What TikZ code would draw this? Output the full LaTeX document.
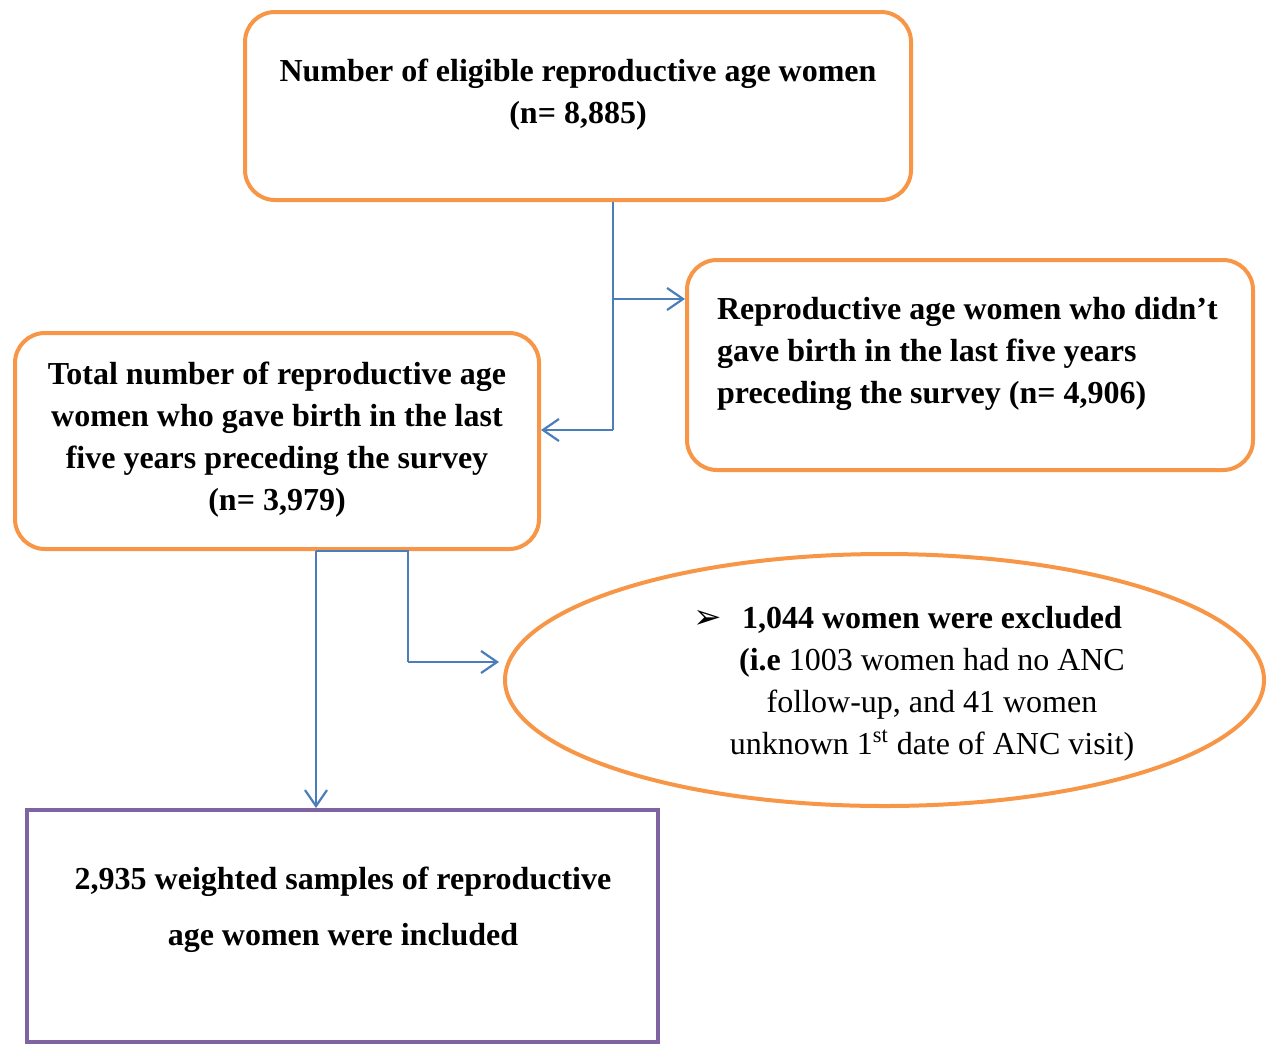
\documentclass[tikz,border=0pt]{standalone}
\usepackage{fontspec}
\setmainfont{Liberation Serif}
\newfontfamily\symfont{DejaVu Sans}
\usetikzlibrary{arrows.meta,shapes.geometric}
\definecolor{boxorange}{RGB}{247,150,70}
\definecolor{linkblue}{RGB}{74,126,187}
\definecolor{boxpurple}{RGB}{128,100,162}
\begin{document}
\begin{tikzpicture}[x=0.5pt, y=-0.5pt,
  roundbox/.style={draw=boxorange, line width=2pt, rounded corners=15pt, inner sep=0pt},
  link/.style={draw=linkblue, line width=1.1pt},
  linkarrow/.style={link, -{Straight Barb[length=8pt,width=11pt]}},
  boxtext/.style={font=\fontsize{16}{21}\selectfont\bfseries, align=center}]
  \useasboundingbox (0,0) rectangle (1273,1044);

  % eligible women
  \node[roundbox, minimum width=333pt, minimum height=94pt] (eligible) at (578,106) {};
  \node[boxtext] (eligibletext) at (578,95) {Number of eligible reproductive age women\\(n= 8,885)};

  % women without birth
  \node[roundbox, minimum width=283pt, minimum height=105pt] (nobirth) at (970,365) {};
  \node[boxtext, align=left, anchor=west] (nobirthtext) at (710,354) {Reproductive age women who didn’t\\gave birth in the last five years\\preceding the survey (n= 4,906)};

  % women with birth
  \node[roundbox, minimum width=262pt, minimum height=108pt] (birth) at (277,441) {};
  \node[boxtext] (birthtext) at (277,440) {Total number of reproductive age\\women who gave birth in the last\\five years preceding the survey\\(n= 3,979)};

  % excluded women
  \node[draw=boxorange, line width=2pt, ellipse, inner sep=0pt, minimum width=379.5pt, minimum height=126pt] (excluded) at (884.5,680) {};
  \node[font=\fontsize{16}{21}\selectfont, align=center] (excludedtext) at (932,684) {\llap{\symfont\fontsize{17}{19}\selectfont ➢\hspace{10pt}}\textbf{1,044 women were excluded}\\\textbf{(i.e} 1003 women had no ANC\\follow-up, and 41 women\\unknown 1\textsuperscript{st} date of ANC visit)};

  % included samples
  \node[draw=boxpurple, line width=2pt, inner sep=0pt, minimum width=315.5pt, minimum height=116pt] (included) at (342.5,926) {};
  \node[boxtext, font=\fontsize{16}{28}\selectfont\bfseries] (includedtext) at (343,910) {2,935 weighted samples of reproductive\\age women were included};

  % connectors
  \coordinate (forkright) at (613,299);
  \coordinate (forkleft) at (613,430);
  \draw[link] (eligible.south -| forkright) -- (forkleft);
  \draw[linkarrow] (forkright) -- (forkright -| nobirth.west);
  \draw[linkarrow] (forkleft) -- (forkleft -| birth.east);

  \coordinate (dropleft) at (316,551);
  \coordinate (dropright) at (408,662);
  \draw[link] (birth.south -| dropleft) -- (birth.south -| dropright) -- (dropright);
  \draw[linkarrow, shorten >=2pt] (dropright) -- (dropright -| excluded.west);
  \draw[linkarrow] (birth.south -| dropleft) -- (included.north -| dropleft);
\end{tikzpicture}
\end{document}
